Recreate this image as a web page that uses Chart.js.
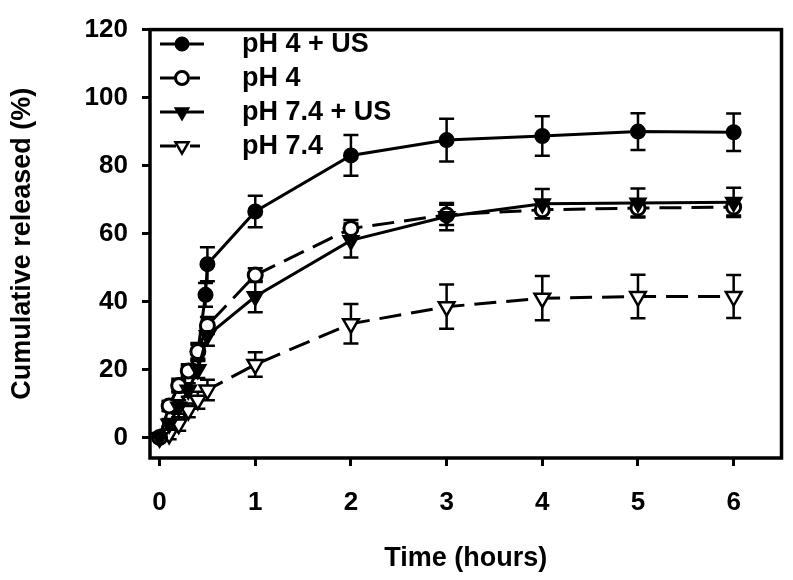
<!DOCTYPE html>
<html><head><meta charset="utf-8">
<script src="https://cdn.jsdelivr.net/npm/chart.js@4"></script>
<style>html,body{margin:0;padding:0;background:#fff}#wrap{width:793px;height:580px;position:relative}</style>
</head><body><div id="wrap"><canvas id="c"></canvas></div>
<script>
const seriesNames = ['pH 4 + US','pH 4','pH 7.4 + US','pH 7.4'];
const timeUS4 = [0,0.1,0.2,0.3,0.4,0.48,0.5,1,2,3,4,5,6];
const valUS4  = [0,9.3,15.3,19.6,25.3,42,51,66.5,83,87.5,88.7,90,89.8];
const errUS4  = [0,1.5,2,2,2.5,3.5,5,4.6,6,6.3,5.8,5.4,5.5];
const time4 = [0,0.1,0.2,0.3,0.4,0.5,1,2,3,4,5,6];
const val4  = [0,9.3,15.3,19.6,25.3,33,47.8,61.5,65.5,67,67.5,67.8];
const err4  = [0,1.5,1.5,1.5,2,2.5,2,2.5,3,2.5,2.5,2.5];
const timeUS74 = [0,0.1,0.2,0.3,0.4,0.5,1,2,3,4,5,6];
const valUS74  = [0,4,9,14,20,30,41.5,58,65,68.8,69,69.2];
const errUS74  = [0,1.5,2,2,2.5,3,4.6,5,4,4.3,4.3,4.3];
const time74 = [0,0.1,0.2,0.3,0.4,0.5,1,2,3,4,5,6];
const val74  = [0,1,4,8,11,14,21.5,33.5,38.5,41,41.5,41.5];
const err74  = [0,1.5,2,2,2.5,3,3.6,5.8,6.5,6.5,6.4,6.3];
const xTicks = [0,1,2,3,4,5,6];
const yTicks = [0,20,40,60,80,100,120];
const xTitle = 'Time (hours)';
const yTitle = 'Cumulative released (%)';

const FONT = 'Liberation Sans, Arial, sans-serif';
const pts = (t, v) => t.map((x, i) => ({x: x, y: v[i]}));
const errs = [errUS4, err4, errUS74, err74];

const styles = [
  {dash: [], style: 'circle', rot: 0, fill: '#000', r: 7, bw: 2, order: 2},
  {dash: [22, 10], style: 'circle', rot: 0, fill: '#fff', r: 7, bw: 3, order: 1},
  {dash: [], style: 'triangle', rot: 180, fill: '#000', r: 9, bw: 2, order: 0},
  {dash: [22, 10], style: 'triangle', rot: 180, fill: '#fff', r: 9, bw: 2.5, order: 3}
];
const allData = [pts(timeUS4, valUS4), pts(time4, val4), pts(timeUS74, valUS74), pts(time74, val74)];

const datasets = seriesNames.map((n, i) => ({
  label: n,
  data: allData[i],
  showLine: true,
  borderColor: '#000',
  borderWidth: 3,
  borderDash: styles[i].dash,
  pointStyle: styles[i].style,
  pointRotation: styles[i].rot,
  pointRadius: styles[i].r,
  pointBackgroundColor: styles[i].fill,
  pointBorderColor: '#000',
  pointBorderWidth: styles[i].bw,
  order: styles[i].order
}));

const errorBars = {
  id: 'errorBars',
  beforeDatasetsDraw(chart) {
    const ctx = chart.ctx, xs = chart.scales.x, ys = chart.scales.y;
    ctx.save();
    ctx.strokeStyle = '#000';
    ctx.lineWidth = 2.5;
    ctx.setLineDash([]);
    allData.forEach((d, i) => {
      d.forEach((p, j) => {
        const e = errs[i][j];
        if (!e) return;
        const px = xs.getPixelForValue(p.x);
        const y1 = ys.getPixelForValue(p.y + e), y2 = ys.getPixelForValue(p.y - e);
        ctx.beginPath();
        ctx.moveTo(px, y1); ctx.lineTo(px, y2);
        ctx.moveTo(px - 7.5, y1); ctx.lineTo(px + 7.5, y1);
        ctx.moveTo(px - 7.5, y2); ctx.lineTo(px + 7.5, y2);
        ctx.stroke();
      });
    });
    ctx.restore();
  }
};

const frameLegend = {
  id: 'frameLegend',
  afterDraw(chart) {
    const ctx = chart.ctx, a = chart.chartArea;
    ctx.save();
    ctx.strokeStyle = '#000';
    ctx.lineWidth = 3.5;
    ctx.setLineDash([]);
    ctx.strokeRect(a.left, a.top, a.right - a.left, a.bottom - a.top);
    const rows = [44, 78, 112, 146];
    seriesNames.forEach((n, i) => {
      const y = rows[i], s = styles[i];
      ctx.lineWidth = 3;
      ctx.strokeStyle = '#000';
      ctx.beginPath();
      if (s.dash.length) {
        ctx.moveTo(160, y); ctx.lineTo(176, y);
        ctx.moveTo(190, y); ctx.lineTo(200, y);
      } else {
        ctx.moveTo(160, y); ctx.lineTo(204, y);
      }
      ctx.stroke();
      ctx.fillStyle = s.fill;
      ctx.lineWidth = s.bw;
      Chart.helpers.drawPoint(ctx, {pointStyle: s.style, rotation: s.rot, radius: s.style === 'triangle' ? 7.5 : 6.5, borderWidth: s.bw}, 182, y);
      ctx.fillStyle = '#000';
      ctx.font = 'bold 27px ' + FONT;
      ctx.textBaseline = 'middle';
      ctx.textAlign = 'left';
      ctx.fillText(n, 242, y + 1);
    });
    ctx.restore();
  }
};

const tickFont = {family: FONT, size: 26, weight: 'bold'};
const titleFont = {family: FONT, size: 27, weight: 'bold'};

new Chart(document.getElementById('c'), {
  type: 'scatter',
  data: {datasets: datasets},
  options: {
    responsive: true,
    maintainAspectRatio: false,
    animation: false,
    layout: {padding: {top: 18, right: 8, left: 0, bottom: 0}},
    plugins: {legend: {display: false}, tooltip: {enabled: false}},
    scales: {
      x: {
        type: 'linear', min: -0.1, max: 6.5,
        afterBuildTicks: s => { s.ticks = xTicks.map(v => ({value: v})); },
        afterFit: s => { s.height = 122; },
        grid: {drawOnChartArea: false, drawTicks: true, tickLength: 8, color: '#000', lineWidth: 3},
        border: {display: false},
        ticks: {color: '#000', font: tickFont, padding: 21, maxRotation: 0},
        title: {display: true, text: xTitle, color: '#000', font: titleFont, padding: {top: 4, bottom: 5}}
      },
      y: {
        type: 'linear', min: -6, max: 120,
        afterBuildTicks: s => { s.ticks = yTicks.map(v => ({value: v})); },
        afterFit: s => { s.width = 150; },
        grid: {drawOnChartArea: false, drawTicks: true, tickLength: 8, color: '#000', lineWidth: 3},
        border: {display: false},
        ticks: {color: '#000', font: tickFont, padding: 14},
        title: {display: true, text: yTitle, color: '#000', font: titleFont, padding: {top: 6, bottom: 6}}
      }
    }
  },
  plugins: [errorBars, frameLegend]
});
</script>
</body></html>
